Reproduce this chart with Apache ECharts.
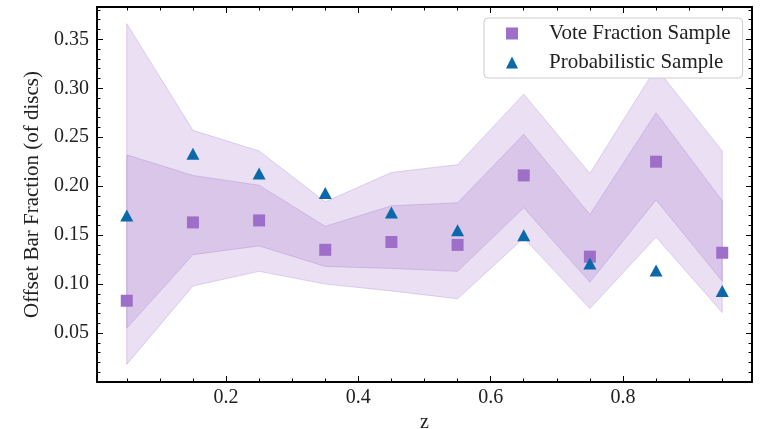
<!DOCTYPE html>
<html>
<head>
<meta charset="utf-8">
<script src="https://cdn.jsdelivr.net/npm/echarts@6/dist/echarts.min.js"></script>
<style>
html,body{margin:0;padding:0;background:#fff;}
#chart{width:771px;height:429px;}
</style>
</head>
<body>
<div id="chart"></div>
<script>
// ---- data ----
var zValues = [0.05, 0.15, 0.25, 0.35, 0.45, 0.55, 0.65, 0.75, 0.85, 0.95];
var voteFraction = [0.083, 0.163, 0.165, 0.135, 0.143, 0.140, 0.211, 0.128, 0.225, 0.132];
var probabilistic = [0.170, 0.233, 0.213, 0.193, 0.173, 0.155, 0.150, 0.121, 0.114, 0.093];
var outerUpper = [0.366, 0.257, 0.236, 0.184, 0.214, 0.222, 0.294, 0.213, 0.321, 0.236];
var outerLower = [0.018, 0.098, 0.113, 0.100, 0.093, 0.085, 0.147, 0.075, 0.148, 0.071];
var innerUpper = [0.232, 0.211, 0.201, 0.159, 0.180, 0.183, 0.253, 0.171, 0.275, 0.185];
var innerLower = [0.055, 0.130, 0.139, 0.118, 0.116, 0.113, 0.178, 0.102, 0.186, 0.103];
var xTickLabels = [0.2, 0.4, 0.6, 0.8];
var xMinorTicks = [0.05, 0.1, 0.15, 0.25, 0.3, 0.35, 0.45, 0.5, 0.55, 0.65, 0.7, 0.75, 0.85, 0.9, 0.95];
var yTickLabels = [0.05, 0.10, 0.15, 0.20, 0.25, 0.30, 0.35];
var yMinorTicks = [0.01,0.02,0.03,0.04,0.06,0.07,0.08,0.09,0.11,0.12,0.13,0.14,0.16,0.17,0.18,0.19,0.21,0.22,0.23,0.24,0.26,0.27,0.28,0.29,0.31,0.32,0.33,0.34,0.36,0.37,0.38];

var FONT = '"Liberation Serif", "DejaVu Serif", serif';
var XMIN = 0.005, XMAX = 0.995, YMIN = 0, YMAX = 0.383;
var bandColor = 'rgba(158,110,200,0.22)';
var bandEdge = 'rgba(158,110,200,0.28)';

function bandSeries(lo, hi) {
  return {
    type: 'custom',
    xAxisIndex: 0, yAxisIndex: 0,
    silent: true,
    data: zValues.map(function (z, i) { return [z, lo[i], hi[i]]; }),
    encode: { x: 0, y: [1, 2] },
    renderItem: function (params, api) {
      if (params.dataIndex !== 0) return null;
      var pts = [];
      for (var i = 0; i < zValues.length; i++) pts.push(api.coord([zValues[i], hi[i]]));
      for (var j = zValues.length - 1; j >= 0; j--) pts.push(api.coord([zValues[j], lo[j]]));
      return { type: 'polygon', shape: { points: pts }, style: { fill: bandColor, stroke: bandEdge, lineWidth: 1 } };
    },
    z: 1
  };
}

function xAx(pos, ticks, len, showLine, showLabel) {
  return {
    type: 'value', position: pos, min: XMIN, max: XMAX,
    axisLine: { show: showLine, onZero: false, lineStyle: { color: '#000', width: 2 } },
    axisTick: { show: true, inside: true, length: len, customValues: ticks, lineStyle: { color: '#000', width: 1 } },
    axisLabel: showLabel ? { show: true, customValues: ticks, margin: 6, fontFamily: FONT, fontSize: 20, color: '#222', formatter: function (v) { return String(+v.toFixed(2)); } } : { show: false },
    splitLine: { show: false }
  };
}
function yAx(pos, ticks, len, showLine, showLabel) {
  return {
    type: 'value', position: pos, min: YMIN, max: YMAX,
    axisLine: { show: showLine, onZero: false, lineStyle: { color: '#000', width: 2 } },
    axisTick: { show: true, inside: true, length: len, customValues: ticks, lineStyle: { color: '#000', width: 1 } },
    axisLabel: showLabel ? { show: true, customValues: ticks, margin: 8, fontFamily: FONT, fontSize: 20, color: '#222', formatter: function (v) { return v.toFixed(2); } } : { show: false },
    splitLine: { show: false }
  };
}

var xAxes = [xAx('bottom', xTickLabels, 6, true, true), xAx('bottom', xMinorTicks, 3.5, false, false), xAx('top', xTickLabels, 6, true, false), xAx('top', xMinorTicks, 3.5, false, false)];
xAxes[0].name = 'z';
xAxes[0].nameLocation = 'middle';
xAxes[0].nameGap = 28;
xAxes[0].nameTextStyle = { fontFamily: FONT, fontSize: 20, color: '#222' };

var yAxes = [yAx('left', yTickLabels, 6, true, true), yAx('left', yMinorTicks, 3.5, false, false), yAx('right', yTickLabels, 6, true, false), yAx('right', yMinorTicks, 3.5, false, false)];
yAxes[0].name = 'Offset Bar Fraction (of discs)';
yAxes[0].nameLocation = 'middle';
yAxes[0].nameGap = 47;
yAxes[0].nameTextStyle = { fontFamily: FONT, fontSize: 21, color: '#222' };

var chart = echarts.init(document.getElementById('chart'), null, { renderer: 'canvas' });
chart.setOption({
  animation: false,
  backgroundColor: '#fff',
  grid: { left: 97, top: 7, right: 19, bottom: 47, containLabel: false, outerBoundsMode: 'none' },
  xAxis: xAxes,
  yAxis: yAxes,
  legend: {
    orient: 'vertical',
    left: 484, top: 18,
    backgroundColor: '#fff',
    borderColor: '#cccccc', borderWidth: 1, borderRadius: 4,
    padding: [5, 12, 5, 22],
    itemWidth: 12, itemHeight: 12, itemGap: 8,
    formatter: function (name) { return '{s|}' + name; },
    textStyle: {
      fontFamily: FONT, fontSize: 21, color: '#222', lineHeight: 21,
      rich: { s: { width: 26 } }
    },
    data: [
      { name: 'Vote Fraction Sample', icon: 'rect' },
      { name: 'Probabilistic Sample', icon: 'triangle' }
    ]
  },
  series: [
    bandSeries(outerLower, outerUpper),
    bandSeries(innerLower, innerUpper),
    {
      name: 'Vote Fraction Sample', type: 'scatter', xAxisIndex: 0, yAxisIndex: 0,
      symbol: 'rect', symbolSize: 12,
      itemStyle: { color: '#9e6fc8', opacity: 1 },
      data: zValues.map(function (z, i) { return [z, voteFraction[i]]; }),
      z: 3
    },
    {
      name: 'Probabilistic Sample', type: 'scatter', xAxisIndex: 0, yAxisIndex: 0,
      symbol: 'triangle', symbolSize: [13, 12],
      itemStyle: { color: '#0b69aa', opacity: 1 },
      data: zValues.map(function (z, i) { return [z, probabilistic[i]]; }),
      z: 4
    }
  ]
});
</script>
</body>
</html>
